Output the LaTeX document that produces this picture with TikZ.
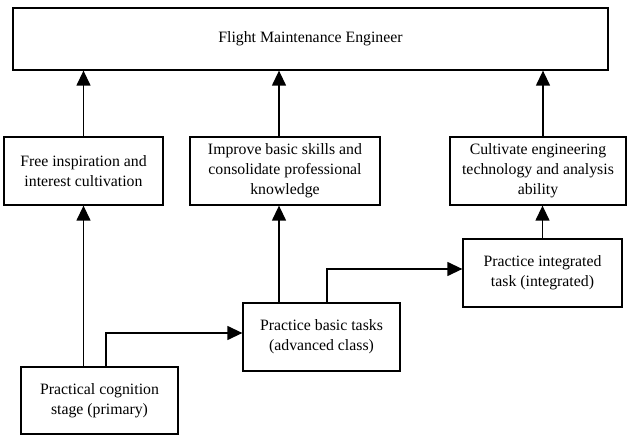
\documentclass[tikz,border=0pt]{standalone}
\usepackage{fontspec}
\setmainfont{Liberation Serif}
\usetikzlibrary{arrows.meta}
\begin{document}
\begin{tikzpicture}[x=1pt,y=-1pt,
  box/.style={draw, line width=1.3pt, inner sep=0pt, align=center,
    font=\fontsize{15.8}{20}\selectfont},
  arr/.style={line width=1.3pt, -{Triangle[length=15pt,width=14pt]}}]
\useasboundingbox (0,0) rectangle (629,435);
\node[box, minimum width=595pt, minimum height=62pt] (top) at (310.5,39) {Flight Maintenance Engineer};
\node[box, minimum width=159pt, minimum height=68pt] (free) at (83.5,171) {Free inspiration and\\interest cultivation};
\node[box, minimum width=190pt, minimum height=68pt] (improve) at (285,171) {Improve basic skills and\\consolidate professional\\knowledge};
\node[box, minimum width=176pt, minimum height=68pt] (cult) at (538,171) {Cultivate engineering\\technology and analysis\\ability};
\node[box, minimum width=157pt, minimum height=67pt] (prac) at (99.5,400.5) {Practical cognition\\stage (primary)};
\node[box, minimum width=157pt, minimum height=68pt] (basic) at (321.5,337) {Practice basic tasks\\(advanced class)};
\node[box, minimum width=159pt, minimum height=68pt] (integ) at (542.5,273) {Practice integrated\\task (integrated)};
% upward arrows to top
\draw[arr] (free.north) -- (free.north |- top.south);
\draw[arr] ([xshift=-6pt]improve.north) -- ([xshift=-6pt]improve.north |- top.south);
\draw[arr] ([xshift=5pt]cult.north) -- ([xshift=5pt]cult.north |- top.south);
% lower arrows
\draw[arr] (prac.north -| free.south) -- (free.south);
\draw[arr] ([xshift=6.5pt]prac.north) |- ([yshift=4pt]basic.west);
\draw[arr] ([xshift=-42.5pt]basic.north) -- ([xshift=-6pt]improve.south);
\draw[arr] ([xshift=5.5pt]basic.north) |- ([yshift=4pt]integ.west);
\draw[arr] (integ.north) -- (integ.north |- cult.south);
\end{tikzpicture}
\end{document}
